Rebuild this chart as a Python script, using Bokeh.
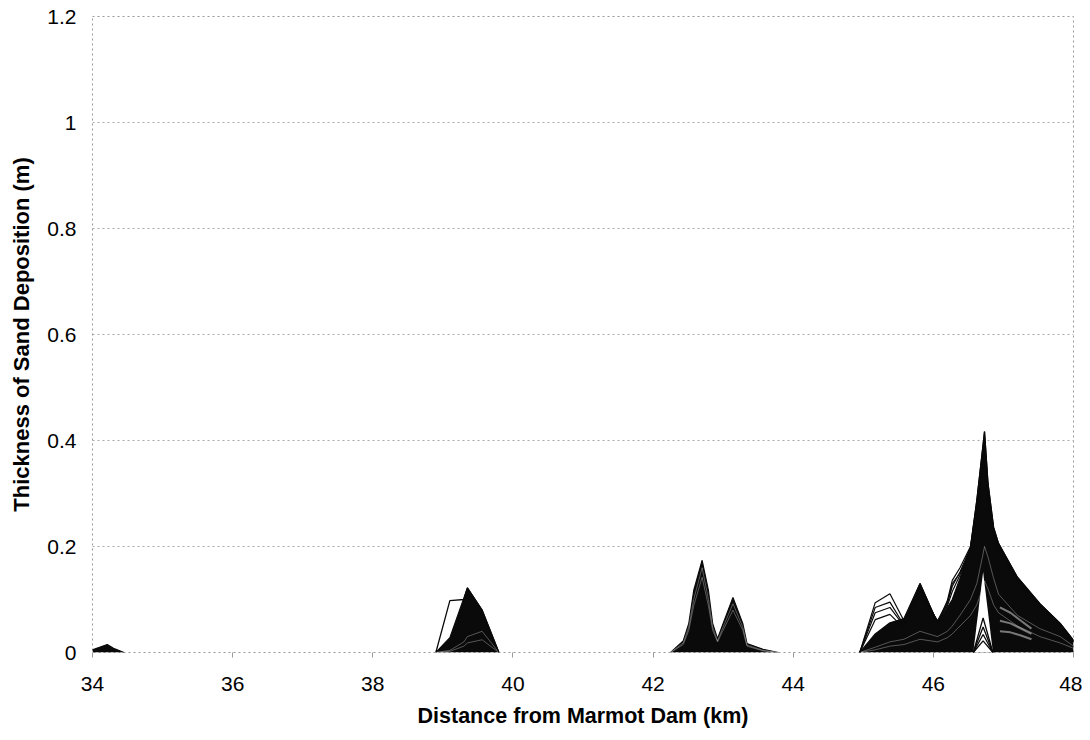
from bokeh.plotting import figure
from bokeh.models import FixedTicker, Range1d
from bokeh.embed import file_html
from bokeh.resources import INLINE

# ---------------- data ----------------
x_ticks = [34, 36, 38, 40, 42, 44, 46, 48]
x_tick_labels = ["34", "36", "38", "40", "42", "44", "46", "48"]
y_ticks = [0, 0.2, 0.4, 0.6, 0.8, 1.0, 1.2]
y_tick_labels = ["0", "0.2", "0.4", "0.6", "0.8", "1", "1.2"]

# deposit near 34 km
d34_x = [34.0, 34.1, 34.21, 34.3, 34.45]
d34_top = [0.005, 0.010, 0.015, 0.008, 0.0]

# deposit near 39.4 km
d39_x = [38.9, 39.1, 39.3, 39.35, 39.56, 39.8]
d39_top = [0.0, 0.028, 0.103, 0.122, 0.080, 0.0]
d39_out = [0.0, 0.098, 0.100, 0.122, 0.080, 0.0]
d39_in1 = [0.0, 0.004, 0.020, 0.030, 0.040, 0.0]
d39_in2 = [0.0, 0.002, 0.012, 0.018, 0.024, 0.0]

# deposit near 42.7 / 43.1 km
d42_x = [42.25, 42.43, 42.51, 42.58, 42.70, 42.79, 42.85, 42.92,
         43.00, 43.14, 43.28, 43.34, 43.57, 43.79]
d42_top = [0.0, 0.022, 0.055, 0.117, 0.174, 0.117, 0.055, 0.026,
           0.055, 0.104, 0.055, 0.017, 0.006, 0.0]
d42_in1 = [0.0, 0.018, 0.048, 0.100, 0.160, 0.100, 0.048, 0.022,
           0.048, 0.092, 0.048, 0.014, 0.004, 0.0]
d42_in2 = [0.0, 0.015, 0.042, 0.088, 0.142, 0.088, 0.042, 0.020,
           0.042, 0.080, 0.042, 0.012, 0.003, 0.0]

# deposit 45 - 48 km
d46_x = [44.95, 45.17, 45.38, 45.58, 45.81, 46.06, 46.20, 46.27, 46.38,
         46.53, 46.62, 46.70, 46.73, 46.78, 46.86, 46.93, 47.20, 47.52,
         47.81, 48.0]
d46_top = [0.0, 0.035, 0.056, 0.064, 0.130, 0.055, 0.085, 0.100, 0.140,
           0.198, 0.287, 0.381, 0.417, 0.319, 0.236, 0.206, 0.142, 0.092,
           0.055, 0.023]
d46_out1 = [0.0, 0.094, 0.111, 0.060, 0.130, 0.055, 0.098, 0.136, 0.160,
            0.200, 0.287, 0.381, 0.417, 0.319, 0.236, 0.206, 0.142, 0.092,
            0.055, 0.023]
d46_out2 = [0.0, 0.085, 0.095, 0.052, 0.125, 0.056, 0.092, 0.125, 0.152,
            0.198, 0.28, 0.37, 0.40, 0.31, 0.23, 0.20, 0.14, 0.09,
            0.054, 0.022]
d46_out3 = [0.0, 0.062, 0.072, 0.046, 0.120, 0.058, 0.088, 0.115, 0.146,
            0.195, 0.27, 0.36, 0.39, 0.30, 0.225, 0.195, 0.138, 0.088,
            0.052, 0.021]
d46_out4 = [0.0, 0.075, 0.085, 0.050, 0.110, 0.060, 0.095, 0.130, 0.150,
            0.190, 0.26, 0.34, 0.37, 0.29, 0.22, 0.19, 0.135, 0.087,
            0.050, 0.020]
# lighter threads inside the dense bundle
d46_gap1 = [0.0, 0.010, 0.020, 0.025, 0.040, 0.030, 0.040, 0.050, 0.070,
            0.100, 0.130, 0.180, 0.200, 0.180, 0.140, 0.110, 0.070, 0.045,
            0.030, 0.012]
d46_gap2 = [0.0, 0.005, 0.012, 0.015, 0.025, 0.020, 0.028, 0.035, 0.050,
            0.070, 0.090, 0.120, 0.135, 0.120, 0.090, 0.075, 0.050, 0.030,
            0.018, 0.008]
wedge_x = [46.57, 46.71, 46.85]
wedge_y = [0.0, 0.152, 0.0]
chev_x = [46.57, 46.71, 46.85]
chev_y1 = [0.0, 0.065, 0.0]
chev_y2 = [0.0, 0.048, 0.0]
chev_y3 = [0.0, 0.034, 0.0]
chev_y4 = [0.0, 0.022, 0.0]
light_x = [46.95, 47.10, 47.25, 47.40]
light_y1 = [0.085, 0.075, 0.060, 0.045]
light_y2 = [0.060, 0.055, 0.045, 0.035]
light_y3 = [0.040, 0.038, 0.032, 0.025]

# ---------------- figure ----------------
FONT = "Liberation Sans"
p = figure(width=1082, height=736, output_backend="svg", toolbar_location=None,
           x_range=Range1d(34, 48), y_range=Range1d(0, 1.2),
           min_border_left=92, min_border_right=9, min_border_top=16,
           min_border_bottom=84)
p.background_fill_color = "white"
p.border_fill_color = "white"
p.outline_line_color = "#999999"
p.outline_line_dash = "2 3"

p.xgrid.grid_line_color = None
p.ygrid.grid_line_color = "#a8a8a8"
p.ygrid.grid_line_dash = "2 3"
p.ygrid.ticker = FixedTicker(ticks=y_ticks)

p.xaxis.ticker = FixedTicker(ticks=x_ticks)
p.xaxis.major_label_overrides = dict(zip(x_ticks, x_tick_labels))
p.yaxis.ticker = FixedTicker(ticks=y_ticks)
p.yaxis.major_label_overrides = dict(zip(y_ticks, y_tick_labels))

for ax in (p.xaxis[0], p.yaxis[0]):
    ax.axis_line_color = None
    ax.minor_tick_line_color = None
    ax.major_label_text_font = FONT
    ax.major_label_text_font_size = "21px"
    ax.major_label_text_color = "black"
    ax.axis_label_text_font = FONT
    ax.axis_label_text_font_size = "22px"
    ax.axis_label_text_font_style = "bold"
    ax.axis_label_text_color = "black"

p.xaxis.axis_label = "Distance from Marmot Dam (km)"
p.xaxis.axis_label_text_font_size = "21.5px"
p.xaxis.major_tick_in = 0
p.xaxis.major_tick_out = 5
p.xaxis.major_tick_line_color = "#999999"
p.xaxis.major_label_standoff = 19
p.xaxis.axis_label_standoff = 10

p.yaxis.axis_label = "Thickness of Sand Deposition (m)"
p.yaxis.major_tick_in = 0
p.yaxis.major_tick_out = 0
p.yaxis.major_label_standoff = 16
p.yaxis.axis_label_standoff = 10

BLACK = "#0a0a0a"

# filled dense bundles
for xs, top in ((d34_x, d34_top), (d39_x, d39_top), (d42_x, d42_top), (d46_x, d46_top)):
    p.varea(x=xs, y1=[0] * len(xs), y2=top, fill_color=BLACK)
    p.line(xs, top, line_color=BLACK, line_width=1.2)

# interior lighter threads
for xs, ys in ((d39_x, d39_in1), (d39_x, d39_in2), (d42_x, d42_in1), (d42_x, d42_in2),
               (d46_x, d46_gap1), (d46_x, d46_gap2)):
    p.line(xs, ys, line_color="white", line_width=0.7, line_alpha=0.45)

# white wedge with chevrons at main peak
p.patch(wedge_x, wedge_y, fill_color="white", line_color=None)
for ys in (chev_y1, chev_y2, chev_y3, chev_y4):
    p.line(chev_x, ys, line_color=BLACK, line_width=1.3)

for ys in (light_y1, light_y2, light_y3):
    p.line(light_x, ys, line_color="white", line_width=2, line_alpha=0.45)

# outlier lines
p.line(d39_x, d39_out, line_color=BLACK, line_width=1.3)
for ys in (d46_out1, d46_out2, d46_out3, d46_out4):
    p.line(d46_x, ys, line_color=BLACK, line_width=1.2)

open("out.html", "w").write(file_html(p, INLINE))
